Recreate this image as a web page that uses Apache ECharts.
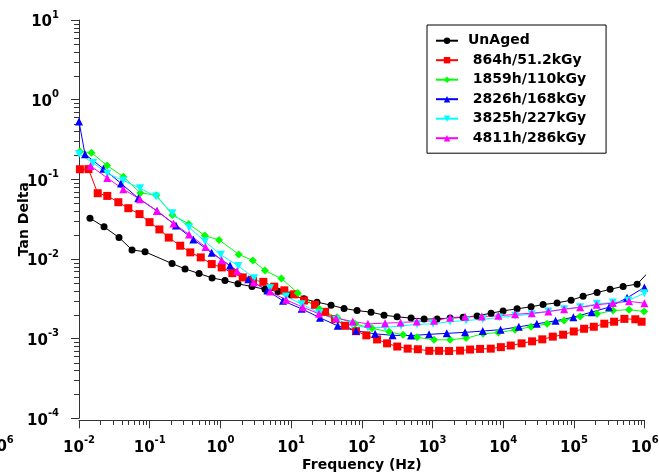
<!DOCTYPE html>
<html>
<head>
<meta charset="utf-8">
<script src="https://cdn.jsdelivr.net/npm/echarts@6/dist/echarts.min.js"></script>
<style>
html,body{margin:0;padding:0;background:#fff;}
#chart{width:659px;height:473px;}
</style>
</head>
<body>
<div id="chart"></div>
<script>
// ---- data (frequency in Hz, tan delta) ----
const seriesNames = ['UnAged', '864h/51.2kGy', '1859h/110kGy', '2826h/168kGy', '3825h/227kGy', '4811h/286kGy'];

const fUnaged = [0.0143, 0.0226, 0.0368, 0.0562, 0.0859, 0.207, 0.316, 0.499, 0.762, 1.16, 1.77, 2.80, 4.27, 6.53, 9.98, 15.2, 23.2, 36.7, 56.0, 85.5, 135, 206, 315, 497, 759, 1159, 1770, 2704, 4266, 6730, 9940, 15670, 24720, 36540, 57650, 90980, 134600, 212300, 324300, 495400, 781600, 1190000];
const tUnaged = [0.0325, 0.0253, 0.0186, 0.0130, 0.0123, 0.00876, 0.00751, 0.00656, 0.00579, 0.00536, 0.00487, 0.00451, 0.00416, 0.00392, 0.00355, 0.00316, 0.00287, 0.00263, 0.00239, 0.00225, 0.00215, 0.00197, 0.00188, 0.00181, 0.00176, 0.00177, 0.00181, 0.00185, 0.00193, 0.00209, 0.00223, 0.00237, 0.00251, 0.00268, 0.00281, 0.00304, 0.00340, 0.00379, 0.00416, 0.00453, 0.00483, 0.00719];

const f864 = [0.0103, 0.0136, 0.0184, 0.0251, 0.0360, 0.0498, 0.0717, 0.0994, 0.137, 0.186, 0.270, 0.375, 0.527, 0.753, 1.043, 1.473, 2.067, 2.892, 4.045, 5.77, 8.01, 11.06, 15.22, 21.78, 30.2, 41.8, 57.9, 82.8, 115.8, 164.1, 227.2, 316.7, 444.4, 619.6, 898.3, 1236, 1711, 2449, 3392, 4698, 6658, 9250, 12770, 18150, 25550, 35610, 50130, 70150, 99360, 139000, 190600, 268300, 369200, 516400, 736200, 904300];
const t864 = [0.1338, 0.1343, 0.0669, 0.0619, 0.0516, 0.0434, 0.0366, 0.0290, 0.0235, 0.01856, 0.01468, 0.01210, 0.01047, 0.00863, 0.00784, 0.00664, 0.00587, 0.00547, 0.00516, 0.00449, 0.00404, 0.00360, 0.00301, 0.00266, 0.00217, 0.00176, 0.00145, 0.00124, 0.00110, 0.000977, 0.000873, 0.000796, 0.000749, 0.000736, 0.000703, 0.000703, 0.000699, 0.000707, 0.000730, 0.000743, 0.000749, 0.000782, 0.000819, 0.000873, 0.000925, 0.000980, 0.00106, 0.00112, 0.00123, 0.00133, 0.00141, 0.00154, 0.00163, 0.00177, 0.00175, 0.00163];

const f1859 = [0.0103, 0.0150, 0.0249, 0.0424, 0.0737, 0.124, 0.209, 0.356, 0.600, 0.955, 1.815, 2.87, 4.27, 7.27, 12.4, 25.1, 44.6, 80.1, 139, 243, 383, 604, 1050, 1770, 2980, 5180, 8530, 14700, 24700, 41700, 72500, 122000, 212000, 357000, 601000, 982000];
const t1859 = [0.2227, 0.2163, 0.1494, 0.1078, 0.0675, 0.0633, 0.0357, 0.02756, 0.01966, 0.01737, 0.01142, 0.00955, 0.00715, 0.00569, 0.00375, 0.00235, 0.00185, 0.001534, 0.001346, 0.001217, 0.001116, 0.001038, 0.000966, 0.000966, 0.001017, 0.001149, 0.001193, 0.001290, 0.001406, 0.001534, 0.001687, 0.001894, 0.002047, 0.002253, 0.002311, 0.002188];

const f2826 = [0.01, 0.01216, 0.0221, 0.0393, 0.0690, 0.127, 0.235, 0.414, 0.753, 1.368, 2.48, 4.61, 7.68, 14.1, 25.6, 45.6, 82.8, 154, 272, 497, 892, 1588, 2884, 5130, 9160, 16600, 29800, 54900, 98100, 177500, 313600, 563400, 990000];
const t2826 = [0.530, 0.2065, 0.1362, 0.0888, 0.0579, 0.0401, 0.02624, 0.01762, 0.01193, 0.00826, 0.00555, 0.00401, 0.00298, 0.002365, 0.001824, 0.001447, 0.001253, 0.001149, 0.001100, 0.001094, 0.001132, 0.001165, 0.001199, 0.001245, 0.001297, 0.001406, 0.001534, 0.001673, 0.001862, 0.002150, 0.002485, 0.00325, 0.00440];

const f3825 = [0.01, 0.0158, 0.0251, 0.0423, 0.0729, 0.1228, 0.209, 0.360, 0.606, 1.01, 1.79, 2.99, 5.03, 8.47, 14.1, 25.1, 43.2, 72.7, 122, 213, 358, 604, 1016, 1770, 2980, 5130, 8810, 14700, 25300, 43400, 72500, 122000, 210000, 353000, 588000, 990000];
const t3825 = [0.2083, 0.1606, 0.1186, 0.0969, 0.0773, 0.0610, 0.0376, 0.02491, 0.01653, 0.01126, 0.00819, 0.00574, 0.00430, 0.00338, 0.00271, 0.00209, 0.001722, 0.001490, 0.001366, 0.001386, 0.001447, 0.001512, 0.001534, 0.001639, 0.001687, 0.001757, 0.001840, 0.001932, 0.002030, 0.002188, 0.002345, 0.002485, 0.002733, 0.002837, 0.003006, 0.003724];

const f4811 = [0.01455, 0.0251, 0.0423, 0.0729, 0.1269, 0.2171, 0.360, 0.6156, 1.043, 1.717, 2.94, 5.03, 8.47, 14.6, 24.8, 43.2, 74.3, 122, 213, 353, 598, 1050, 1770, 2884, 4966, 8530, 14700, 25300, 43400, 72500, 122000, 208800, 353800, 601000, 990000];
const t4811 = [0.1473, 0.1041, 0.0751, 0.0563, 0.0401, 0.02797, 0.02036, 0.01418, 0.00966, 0.00709, 0.00506, 0.00390, 0.00307, 0.002485, 0.002047, 0.001808, 0.001639, 0.001534, 0.001565, 0.001592, 0.001639, 0.001673, 0.001835, 0.001877, 0.001894, 0.001932, 0.002018, 0.002089, 0.002188, 0.002345, 0.002470, 0.002655, 0.002797, 0.002938, 0.002789];

const xMajorTicks = [0.01, 0.1, 1, 10, 100, 1000, 10000, 100000, 1000000];
const yMajorTicks = [0.0001, 0.001, 0.01, 0.1, 1, 10];

// ---- styling ----
const colors = ['#000000', '#ff0000', '#00ff00', '#0000ff', '#00ffff', '#ff00ff'];
const symbols = ['circle', 'rect', 'diamond', 'triangle', 'triangle', 'triangle'];
const symbolSizes = [7, 8, 8, 8, 8, 8];
const symbolRotates = [0, 0, 0, 0, 180, 0];
const freqs = [fUnaged, f864, f1859, f2826, f3825, f4811];
const tans = [tUnaged, t864, t1859, t2826, t3825, t4811];

function minorTicks(d0, d1) {
  const out = [];
  for (let d = d0; d < d1; d++) for (let k = 2; k <= 9; k++) out.push(+(k * Math.pow(10, d)).toPrecision(3));
  return out;
}
const FONT = 'DejaVu Sans';
const labelRich = {
  b: { fontFamily: FONT, fontWeight: 'bold', fontSize: 15, color: '#000', lineHeight: 20, verticalAlign: 'bottom' },
  s: { fontFamily: FONT, fontWeight: 'bold', fontSize: 10, color: '#000', lineHeight: 11, verticalAlign: 'top' }
};
function powLabel(v) {
  const e = Math.round(Math.log10(v));
  return '{b|10}{s|' + e + '}';
}
const axisCol = '#333';

const chart = echarts.init(document.getElementById('chart'), null, { renderer: 'canvas' });
const option = {
  animation: false,
  backgroundColor: '#fff',
  grid: { left: 79, right: 14.3, top: 20, bottom: 54.7, containLabel: false, outerBoundsMode: 'none' },
  legend: {
    orient: 'vertical',
    left: 427, top: 25,
    padding: [8.7, 20, 8, 8],
    itemWidth: 22, itemHeight: 8, itemGap: 5.5,
    borderColor: '#000', borderWidth: 1,
    data: seriesNames,
    formatter: n => (n === 'UnAged' ? n : ' ' + n),
    textStyle: { fontFamily: FONT, fontWeight: 'bold', fontSize: 14, color: '#000', padding: [0, 0, 0, 5] }
  },
  xAxis: [{
    type: 'log', logBase: 10, min: 0.01, max: 1000000,
    position: 'bottom', offset: 2,
    name: 'Frequency (Hz)', nameLocation: 'middle', nameGap: 38, nameMoveOverlap: false,
    nameTextStyle: { fontFamily: FONT, fontWeight: 'bold', fontSize: 14, color: '#000' },
    axisLine: { show: true, lineStyle: { color: axisCol, width: 1 } },
    axisTick: { show: true, length: 8, inside: false, customValues: xMajorTicks, lineStyle: { color: axisCol } },
    axisLabel: { show: true, margin: 15, customValues: xMajorTicks, formatter: powLabel, rich: labelRich, hideOverlap: false },
    splitLine: { show: false }
  }],
  yAxis: [{
    type: 'log', logBase: 10, min: 0.0001, max: 10,
    position: 'left',
    name: 'Tan Delta', nameLocation: 'middle', nameGap: 48, nameRotate: 90, nameMoveOverlap: false,
    nameTextStyle: { fontFamily: FONT, fontWeight: 'bold', fontSize: 14, color: '#000' },
    axisLine: { show: true, lineStyle: { color: axisCol, width: 1 } },
    axisTick: { show: true, length: 8, customValues: yMajorTicks, lineStyle: { color: axisCol } },
    axisLabel: { show: true, margin: 20, customValues: yMajorTicks, formatter: powLabel, rich: labelRich, hideOverlap: false },
    splitLine: { show: false }
  }],
  series: seriesNames.map((name, i) => ({
    name: name,
    type: 'line',
    xAxisIndex: 0, yAxisIndex: 0,
    data: freqs[i].map((f, j) => [f, tans[i][j]]),
    symbol: symbols[i],
    symbolSize: symbolSizes[i],
    symbolRotate: symbolRotates[i],
    showSymbol: true, showAllSymbol: true,
    clip: true,
    itemStyle: { color: colors[i] },
    lineStyle: { color: colors[i], width: 1 }
  }))
};
chart.setOption(option);

// minor log ticks placed through the library's own axis scales
const g = [];
const xVals = minorTicks(-2, 6);
const yVals = minorTicks(-4, 1);
const xPix = xVals.map(v => chart.convertToPixel({ xAxisIndex: 0 }, v));
const yPix = yVals.map(v => chart.convertToPixel({ yAxisIndex: 0 }, v));
const yBottom = chart.convertToPixel({ yAxisIndex: 0 }, 0.0001);
const xLeft = chart.convertToPixel({ xAxisIndex: 0 }, 0.01);
const xAxisY = Math.round(yBottom + 2);
const xL = Math.round(xLeft);
xPix.forEach(p => {
  const px = Math.round(p) + 0.5;
  g.push({ type: 'line', silent: true, shape: { x1: px, y1: xAxisY, x2: px, y2: xAxisY + 5 }, style: { stroke: '#333', lineWidth: 1 } });
});
yPix.forEach(p => {
  const py = Math.round(p) + 0.5;
  g.push({ type: 'line', silent: true, shape: { x1: xL - 5, y1: py, x2: xL, y2: py }, style: { stroke: '#333', lineWidth: 1 } });
});
// clipped "10^6" label fragment at far left of the original figure
g.push({ type: 'text', x: -14, y: xAxisY + 15, silent: true, style: { text: '{b|10}{s|6}', rich: labelRich } });
chart.setOption({ graphic: g });
</script>
</body>
</html>
